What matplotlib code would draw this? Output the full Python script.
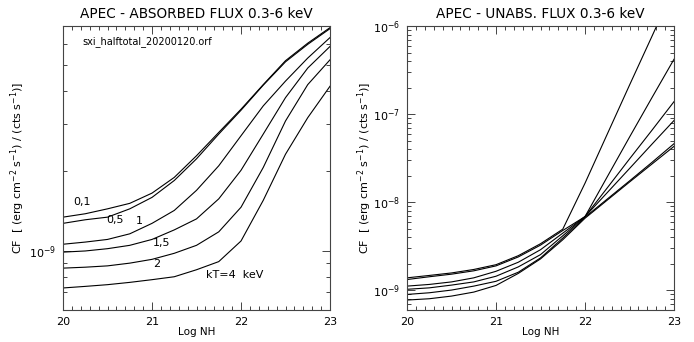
import matplotlib
matplotlib.use("Agg")
import matplotlib.pyplot as plt
from matplotlib.ticker import FixedLocator, LogLocator, LogFormatterSciNotation, NullFormatter, MultipleLocator

# log NH grid (knots every 0.25)
log_nh = [20.0, 20.25, 20.5, 20.75, 21.0, 21.25, 21.5, 21.75, 22.0, 22.25, 22.5, 22.75, 23.0]

# absorbed flux conversion factors, one list per kT (keV)
abs_kt01 = [1.34e-9, 1.38e-9, 1.44e-9, 1.51e-9, 1.65e-9, 1.89e-9, 2.28e-9, 2.79e-9, 3.41e-9, 4.22e-9, 5.19e-9, 6.04e-9, 6.91e-9]
abs_kt05 = [1.27e-9, 1.31e-9, 1.34e-9, 1.44e-9, 1.59e-9, 1.84e-9, 2.22e-9, 2.75e-9, 3.38e-9, 4.20e-9, 5.14e-9, 5.98e-9, 6.85e-9]
abs_kt1 = [1.06e-9, 1.08e-9, 1.105e-9, 1.16e-9, 1.27e-9, 1.42e-9, 1.69e-9, 2.09e-9, 2.71e-9, 3.51e-9, 4.35e-9, 5.31e-9, 6.34e-9]
abs_kt15 = [0.99e-9, 1.00e-9, 1.02e-9, 1.05e-9, 1.105e-9, 1.20e-9, 1.32e-9, 1.57e-9, 2.01e-9, 2.75e-9, 3.77e-9, 4.87e-9, 5.87e-9]
abs_kt2 = [0.862e-9, 0.869e-9, 0.879e-9, 0.90e-9, 0.93e-9, 0.98e-9, 1.05e-9, 1.18e-9, 1.46e-9, 2.06e-9, 3.08e-9, 4.22e-9, 5.23e-9]
abs_kt4 = [0.726e-9, 0.736e-9, 0.747e-9, 0.762e-9, 0.78e-9, 0.80e-9, 0.85e-9, 0.912e-9, 1.09e-9, 1.55e-9, 2.31e-9, 3.17e-9, 4.16e-9]

# unabsorbed flux conversion factors
unabs_kt01 = [1.39e-9, 1.48e-9, 1.58e-9, 1.73e-9, 1.96e-9, 2.48e-9, 3.39e-9, 4.96e-9, 1.65e-8, 5.95e-8, 2.14e-7, 7.58e-7, 2.71e-6]
unabs_kt05 = [1.33e-9, 1.43e-9, 1.53e-9, 1.67e-9, 1.90e-9, 2.40e-9, 3.27e-9, 4.79e-9, 6.89e-9, 1.95e-8, 5.50e-8, 1.53e-7, 4.21e-7]
unabs_kt1 = [1.12e-9, 1.17e-9, 1.25e-9, 1.39e-9, 1.65e-9, 2.09e-9, 2.90e-9, 4.47e-9, 6.89e-9, 1.46e-8, 3.11e-8, 6.54e-8, 1.39e-7]
unabs_kt15 = [1.03e-9, 1.07e-9, 1.15e-9, 1.25e-9, 1.45e-9, 1.85e-9, 2.55e-9, 4.17e-9, 6.89e-9, 1.29e-8, 2.42e-8, 4.55e-8, 8.49e-8]
unabs_kt2 = [0.901e-9, 0.941e-9, 1.01e-9, 1.12e-9, 1.27e-9, 1.61e-9, 2.34e-9, 3.93e-9, 6.78e-9, 1.09e-8, 1.75e-8, 2.83e-8, 4.63e-8]
unabs_kt4 = [0.778e-9, 0.805e-9, 0.863e-9, 0.958e-9, 1.14e-9, 1.56e-9, 2.28e-9, 3.76e-9, 6.60e-9, 1.06e-8, 1.70e-8, 2.71e-8, 4.32e-8]

abs_curves = [abs_kt01, abs_kt05, abs_kt1, abs_kt15, abs_kt2, abs_kt4]
unabs_curves = [unabs_kt01, unabs_kt05, unabs_kt1, unabs_kt15, unabs_kt2, unabs_kt4]

# labelled decades on each panel
abs_decades = [1e-9]
unabs_decades = [1e-9, 1e-8, 1e-7, 1e-6]

# curve labels on the absorbed panel: (text, x, y)
kt_labels = [
    ("0,1", 20.11, 1.53e-9),
    ("0,5", 20.49, 1.31e-9),
    ("1", 20.82, 1.30e-9),
    ("1,5", 21.01, 1.07e-9),
    ("2", 21.01, 0.892e-9),
    ("kT=4  keV", 21.61, 0.809e-9),
]

ylabel = r"CF  [ (erg cm$^{-2}$ s$^{-1}$) / (cts s$^{-1}$)]"
spine_col = "#444444"

plt.rcParams["font.family"] = ["DejaVu Sans"]
plt.rcParams["mathtext.fontset"] = "dejavusans"

fig = plt.figure(figsize=(6.94, 3.42), dpi=100)
ax1 = fig.add_axes([0.0908, 0.0936, 0.3847, 0.830])
ax2 = fig.add_axes([0.5865, 0.0936, 0.3847, 0.830])


def style_axis(ax, ylim, decades, label_x):
    ax.set_yscale("log")
    ax.set_xlim(20, 23)
    ax.set_ylim(*ylim)
    ax.xaxis.set_major_locator(MultipleLocator(1))
    ax.xaxis.set_minor_locator(MultipleLocator(0.1))
    ax.yaxis.set_major_locator(FixedLocator(decades))
    ax.yaxis.set_minor_locator(LogLocator(base=10, subs=range(2, 10)))
    ax.yaxis.set_major_formatter(LogFormatterSciNotation())
    ax.yaxis.set_minor_formatter(NullFormatter())
    ax.tick_params(which="both", direction="in", top=True, right=True,
                   color=spine_col, width=0.7, labelsize=8, pad=5)
    ax.tick_params(which="major", length=6)
    ax.tick_params(which="minor", length=3)
    for sp in ax.spines.values():
        sp.set_color(spine_col)
        sp.set_linewidth(0.8)
    ax.set_xlabel("Log NH", fontsize=7.5, labelpad=0)
    ax.set_ylabel(ylabel, fontsize=8)
    ax.yaxis.set_label_coords(label_x, 0.5)


for ys in abs_curves:
    ax1.plot(log_nh, ys, color="black", lw=0.8)
for ys in unabs_curves:
    ax2.plot(log_nh, ys, color="black", lw=0.8)

style_axis(ax1, (6.0e-10, 7.0e-9), abs_decades, -0.135)
style_axis(ax2, (6.0e-10, 1.0e-6), unabs_decades, -0.124)

ax1.set_title("APEC - ABSORBED FLUX 0.3-6 keV", fontsize=9.8, pad=6)
ax2.set_title("APEC - UNABS. FLUX 0.3-6 keV", fontsize=9.8, pad=6)

ax1.text(0.071, 0.947, "sxi_halftotal_20200120.orf", transform=ax1.transAxes,
         fontsize=7, ha="left", va="center")
for txt, x, y in kt_labels:
    ax1.text(x, y, txt, fontsize=8, ha="left", va="center")

fig.savefig("out.png", dpi=100)
